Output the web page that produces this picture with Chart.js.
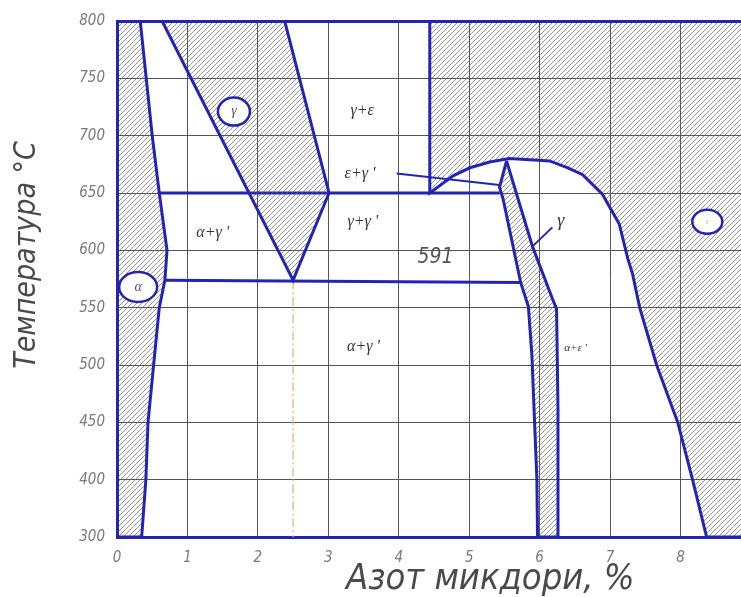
<!DOCTYPE html>
<html>
<head>
<meta charset="utf-8">
<script src="https://cdn.jsdelivr.net/npm/chart.js@4.4.0/dist/chart.umd.min.js"></script>
<style>
html, body { margin: 0; padding: 0; background: #fff; overflow: hidden; }
#wrap { width: 741px; height: 597px; overflow: hidden; }
</style>
</head>
<body>
<div id="wrap"><canvas id="myChart" width="780" height="597" style="width:780px;height:597px"></canvas></div>
<script>
// tick labels (the temperature grid is drawn evenly, 300 -> 400 is one step)
const xTicks = [0, 1, 2, 3, 4, 5, 6, 7, 8, 9];
const yTickLabels = [300, 400, 450, 500, 550, 600, 650, 700, 750, 800];

// alpha region (left strip)
const alphaN = [0, 0.35, 0.41, 0.44, 0.52, 0.60, 0.68, 0.71, 0.60, 0.50, 0.33, 0, 0];
const alphaT = [300, 300, 400, 450, 500, 550, 574, 600, 650, 700, 800, 800, 300];

// gamma region
const gammaN = [0.64, 2.38, 3.01, 2.50, 0.64];
const gammaT = [800, 800, 650, 574, 800];

// epsilon region (right, under the dome)
const epsN = [4.44, 9, 9, 8.37, 8.17, 7.96, 7.66, 7.42, 7.32, 7.25, 7.13, 6.89, 6.61, 6.40, 6.14, 5.86, 5.57, 5.29, 5.01, 4.77, 4.44, 4.44];
const epsT = [800, 800, 300, 300, 400, 450, 500, 550, 579, 593, 623, 649, 666, 672, 678, 679, 680, 677, 672, 665, 650, 800];

// gamma' strip
const stripN = [5.53, 5.43, 5.48, 5.73, 5.84, 5.89, 5.96, 5.97, 6.26, 6.26, 6.24, 6.18, 5.90, 5.53];
const stripT = [678, 655, 645, 572, 551, 508, 401, 300, 300, 462, 549, 558, 603, 678];

// horizontal lines
const line650N = [0.60, 5.43];
const line650T = [650, 650];
const eutN = [0.68, 5.73];
const eutT = [574, 572];

// dashed vertical under the gamma apex
const dashN = [2.5, 2.5];
const dashT = [574, 300];

// leader lines
const leadEpsN = [3.97, 5.43];
const leadEpsT = [667, 657];
const leadGamN = [5.89, 6.18];
const leadGamT = [603, 620];

// phase labels
const labelText = ['γ+ε', 'ε+γ \'', 'γ+γ \'', 'α+γ \'', 'α+γ \'', 'α+ε \'', 'γ'];
const labelN = [3.48, 3.45, 3.49, 1.36, 3.50, 6.51, 6.30];
const labelT = [722, 667, 625, 615, 516, 515, 625];

// circled phase names
const circleText = ['α', 'γ', 'ε'];
const circleN = [0.30, 1.66, 8.38];
const circleT = [568, 721, 625];

const blue = '#2424b4';

function tempToIdx(t) {
    for (let i = 0; i < yTickLabels.length - 1; i++) {
        const a = yTickLabels[i], b = yTickLabels[i + 1];
        if (t <= b) return i + (t - a) / (b - a);
    }
    return yTickLabels.length - 1;
}

function pts(ns, ts) {
    return ns.map((n, i) => ({x: n, y: tempToIdx(ts[i])}));
}

function makeHatch() {
    const c = document.createElement('canvas');
    c.width = 5; c.height = 5;
    const g = c.getContext('2d');
    g.strokeStyle = 'rgba(100,100,100,0.7)';
    g.lineWidth = 1;
    g.beginPath();
    g.moveTo(0, 5); g.lineTo(5, 0);
    g.moveTo(-1, 1); g.lineTo(1, -1);
    g.moveTo(4, 6); g.lineTo(6, 4);
    g.stroke();
    return g.createPattern(c, 'repeat');
}
const hatch = makeHatch();

function region(ns, ts) {
    return {data: pts(ns, ts), fill: 'shape', backgroundColor: hatch, borderColor: blue, borderWidth: 3, pointRadius: 0, tension: 0};
}
function line(ns, ts, w) {
    return {data: pts(ns, ts), fill: false, borderColor: blue, borderWidth: w, pointRadius: 0, tension: 0};
}

const textPlugin = {
    id: 'phaseText',
    afterDatasetsDraw(chart) {
        const {ctx} = chart;
        const sx = chart.scales.x, sy = chart.scales.y;
        ctx.save();
        ctx.textAlign = 'center';
        ctx.textBaseline = 'middle';

        const rx = [19, 16, 15], ry = [15, 14, 12];
        circleText.forEach((t, i) => {
            const px = sx.getPixelForValue(circleN[i]);
            const py = sy.getPixelForValue(tempToIdx(circleT[i]));
            ctx.beginPath();
            ctx.ellipse(px, py, rx[i], ry[i], 0, 0, Math.PI * 2);
            ctx.fillStyle = '#fff';
            ctx.fill();
            ctx.lineWidth = 2.5;
            ctx.strokeStyle = blue;
            ctx.stroke();
            ctx.fillStyle = i == 2 ? '#bbb' : '#555';
            ctx.font = 'italic ' + (i == 2 ? 8 : 14) + 'px "Liberation Serif"';
            ctx.fillText(t, px, py);
        });

        labelText.forEach((t, i) => {
            const px = sx.getPixelForValue(labelN[i]);
            const py = sy.getPixelForValue(tempToIdx(labelT[i]));
            ctx.fillStyle = '#333';
            ctx.font = 'italic ' + (i == 5 ? 11 : (i == 6 ? 18 : 16)) + 'px "Liberation Serif"';
            ctx.fillText(t, px, py);
        });

        // 591 mark
        ctx.fillStyle = '#555';
        ctx.font = 'italic 21px "DejaVu Sans Condensed"';
        ctx.fillText('591', sx.getPixelForValue(4.52), sy.getPixelForValue(tempToIdx(594)));

        // axis titles
        ctx.fillStyle = '#4a4a4a';
        ctx.font = 'italic 36px "DejaVu Sans Condensed"';
        ctx.fillText('Азот микдори, %', sx.getPixelForValue(5.3), chart.chartArea.bottom + 43);

        ctx.translate(27, sy.getPixelForValue(tempToIdx(596)));
        ctx.rotate(-Math.PI / 2);
        ctx.font = 'italic 30px "DejaVu Sans Condensed"';
        ctx.fillText('Температура °С', 0, 0);
        ctx.restore();
    }
};

const tickFont = {family: '"DejaVu Sans Condensed", "DejaVu Sans"', size: 15, style: 'italic'};

const config = {
    type: 'line',
    data: {
        datasets: [
            region(alphaN, alphaT),
            region(gammaN, gammaT),
            region(epsN, epsT),
            region(stripN, stripT),
            line(line650N, line650T, 3),
            line(eutN, eutT, 3),
            {data: pts(dashN, dashT), fill: false, borderColor: '#e3b877', borderWidth: 1.3, borderDash: [9, 3, 2, 3], pointRadius: 0},
            line(leadEpsN, leadEpsT, 2),
            line(leadGamN, leadGamT, 2),
        ]
    },
    options: {
        responsive: false,
        animation: false,
        layout: {padding: {top: 20, right: 29, left: 0, bottom: 0}},
        plugins: {legend: {display: false}, tooltip: {enabled: false}},
        scales: {
            x: {
                type: 'linear', min: 0, max: 9,
                afterFit: s => { s.height = 60; },
                afterBuildTicks: s => { s.ticks = xTicks.map(v => ({value: v})); },
                border: {color: blue, width: 3},
                grid: {color: '#555', lineWidth: 1, drawTicks: false},
                ticks: {padding: 12, color: '#7a7a7a', font: tickFont}
            },
            y: {
                type: 'linear', min: 0, max: 9,
                afterFit: s => { s.width = 117; },
                border: {color: blue, width: 3},
                grid: {
                    color: c => (c.tick && c.tick.value == 9) ? blue : '#555',
                    lineWidth: c => (c.tick && c.tick.value == 9) ? 3 : 1,
                    drawTicks: false
                },
                ticks: {stepSize: 1, padding: 12, color: '#7a7a7a', font: tickFont, callback: v => yTickLabels[v]}
            }
        }
    },
    plugins: [textPlugin]
};

const myChart = new Chart(document.getElementById('myChart'), config);
</script>
</body>
</html>
